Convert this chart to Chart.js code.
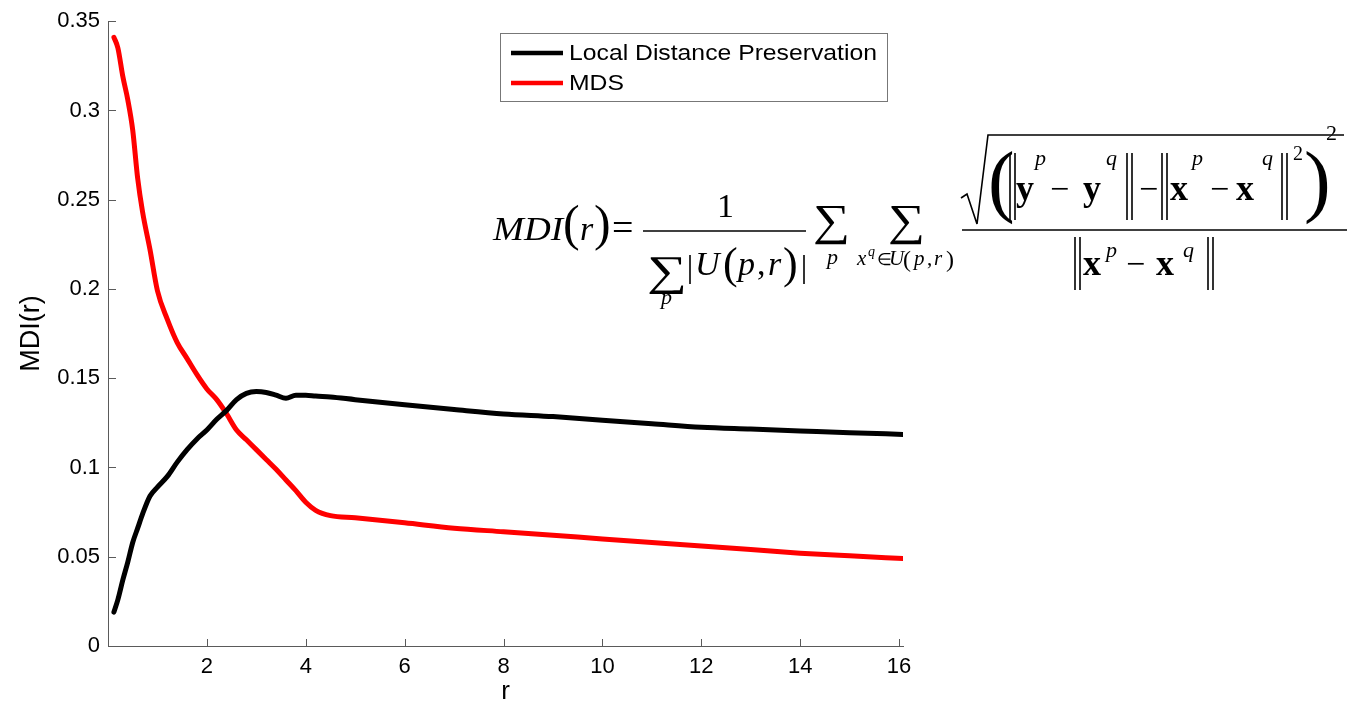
<!DOCTYPE html>
<html>
<head>
<meta charset="utf-8">
<script src="https://cdn.jsdelivr.net/npm/chart.js@4/dist/chart.umd.min.js"></script>
<style>
  body { margin: 0; background: #fff; }
  #wrap { position: relative; width: 1349px; height: 705px; }
  #formula { position: absolute; left: 0; top: 0; pointer-events: none; }
</style>
</head>
<body>
<div id="wrap">
  <canvas id="myChart"></canvas>
  <svg id="formula" width="1349" height="705" font-family="'Liberation Serif','Times New Roman',serif" fill="#000">
    <g font-size="34" stroke="none">
      <text x="493" y="240" font-style="italic" textLength="70" lengthAdjust="spacingAndGlyphs">MDI</text>
      <text x="563" y="240" font-size="50">(</text>
      <text x="580" y="240" font-style="italic">r</text>
      <text x="594" y="240" font-size="50">)</text>
      <text x="612" y="240" font-size="38">=</text>
      <text x="717" y="217">1</text>
      <text x="647" y="285" font-size="42" textLength="40" lengthAdjust="spacingAndGlyphs">∑</text>
      <text x="661" y="304" font-size="22" font-style="italic">p</text>
      <text x="695" y="275" font-style="italic">U</text>
      <text x="723" y="278" font-size="44">(</text>
      <text x="738" y="275" font-style="italic">p</text>
      <text x="757" y="275">,</text>
      <text x="768" y="275" font-style="italic">r</text>
      <text x="783" y="278" font-size="44">)</text>
      <text x="813" y="235" font-size="44" textLength="37" lengthAdjust="spacingAndGlyphs">∑</text>
      <text x="827" y="264" font-size="22" font-style="italic">p</text>
      <text x="888" y="235" font-size="44" textLength="37" lengthAdjust="spacingAndGlyphs">∑</text>
      <text x="857" y="265" font-size="21" font-style="italic">x</text>
      <text x="868" y="256" font-size="14" font-style="italic">q</text>
      <text x="877" y="265" font-size="17">∈</text>
      <text x="889" y="265" font-size="21" font-style="italic">U</text>
      <text x="903" y="267" font-size="24">(</text>
      <text x="914" y="265" font-size="21" font-style="italic">p</text>
      <text x="927" y="265" font-size="21">,</text>
      <text x="934" y="265" font-size="21" font-style="italic">r</text>
      <text x="946" y="267" font-size="24">)</text>

      <text x="988" y="207" font-size="80">(</text>
      <text x="1016" y="200" font-weight="bold" font-size="36">y</text>
      <text x="1035" y="165" font-size="22" font-style="italic">p</text>
      <text x="1050" y="200">−</text>
      <text x="1083" y="200" font-weight="bold" font-size="36">y</text>
      <text x="1106" y="165" font-size="22" font-style="italic">q</text>
      <text x="1139" y="200">−</text>
      <text x="1170" y="200" font-weight="bold" font-size="36">x</text>
      <text x="1192" y="165" font-size="22" font-style="italic">p</text>
      <text x="1210" y="200">−</text>
      <text x="1236" y="200" font-weight="bold" font-size="36">x</text>
      <text x="1262" y="165" font-size="22" font-style="italic">q</text>
      <text x="1293" y="160" font-size="20">2</text>
      <text x="1304" y="207" font-size="80">)</text>
      <text x="1326" y="140" font-size="22">2</text>

      <text x="1083" y="275" font-weight="bold" font-size="36">x</text>
      <text x="1106" y="257" font-size="22" font-style="italic">p</text>
      <text x="1126" y="275">−</text>
      <text x="1156" y="275" font-weight="bold" font-size="36">x</text>
      <text x="1183" y="257" font-size="22" font-style="italic">q</text>
    </g>
    <g stroke="#000" stroke-width="1.6" fill="none">
      <line x1="643" y1="231" x2="806" y2="231"/>
      <line x1="962" y1="230" x2="1347" y2="230"/>
      <line x1="690" y1="255" x2="690" y2="284"/>
      <line x1="804" y1="255" x2="804" y2="284"/>
      <path d="M961,198 L967,194 L977,224 L988,135 L1344,135"/>
      <path d="M1010,153 V220 M1015,153 V220 M1127,153 V220 M1132,153 V220 M1162,153 V220 M1167,153 V220 M1282,153 V220 M1287,153 V220"/>
      <path d="M1075,237 V290 M1080,237 V290 M1208,237 V290 M1213,237 V290"/>
    </g>
  </svg>
</div>
<script>
// r values (shared by both curves)
const rValues = [0.12, 0.2, 0.3, 0.4, 0.5, 0.6, 0.7, 0.85, 1.0, 1.2, 1.4, 1.6, 1.8, 2.0,
  2.2, 2.4, 2.6, 2.8, 3.0, 3.2, 3.4, 3.6, 3.8, 4.0, 4.2, 4.5, 5, 6, 7, 8, 9, 10, 11, 12, 13, 14, 15, 16.1]

const ldpValues = [0.019, 0.026, 0.037, 0.047, 0.058, 0.066, 0.074, 0.084, 0.089, 0.095, 0.103, 0.110, 0.116, 0.121,
  0.127, 0.132, 0.138, 0.1415, 0.1425, 0.142, 0.1405, 0.1388, 0.1405, 0.1405, 0.140, 0.1395, 0.138, 0.1352,
  0.1325, 0.130, 0.1285, 0.1265, 0.1245, 0.1225, 0.1215, 0.1205, 0.1195, 0.1185]

const mdsValues = [0.341, 0.335, 0.319, 0.306, 0.289, 0.262, 0.243, 0.222, 0.199, 0.183, 0.170, 0.161, 0.152, 0.144,
  0.138, 0.130, 0.121, 0.1155, 0.110, 0.1045, 0.099, 0.093, 0.087, 0.0805, 0.076, 0.073, 0.0718, 0.069,
  0.066, 0.064, 0.062, 0.060, 0.058, 0.056, 0.054, 0.052, 0.0505, 0.049]

const xTicks = [2, 4, 6, 8, 10, 12, 14, 16]
const yTicks = [0, 0.05, 0.1, 0.15, 0.2, 0.25, 0.3, 0.35]

const seriesNames = ['Local Distance Preservation', 'MDS']
const seriesColors = ['#000000', '#ff0000']
const axisColor = '#5a5a5a'

const toPoints = (vals) => rValues.map((r, i) => ({ x: r, y: vals[i] }))

// matlab style: ticks pointing into the plot + boxed legend
const matlabBits = {
  id: 'matlabBits',
  afterDraw(chart) {
    const ctx = chart.ctx
    const xs = chart.scales.x, ys = chart.scales.y
    const area = chart.chartArea
    ctx.save()
    ctx.strokeStyle = axisColor
    ctx.lineWidth = 1
    ctx.beginPath()
    xTicks.forEach(v => {
      const px = Math.round(xs.getPixelForValue(v)) + 0.5
      ctx.moveTo(px, area.bottom)
      ctx.lineTo(px, area.bottom - 7)
    })
    yTicks.forEach(v => {
      const py = Math.round(ys.getPixelForValue(v)) + 0.5
      ctx.moveTo(area.left, py)
      ctx.lineTo(area.left + 8, py)
    })
    ctx.stroke()

    // legend
    const bx = 500.5, by = 33.5, bw = 387, bh = 68
    ctx.fillStyle = '#fff'
    ctx.fillRect(bx, by, bw, bh)
    ctx.strokeStyle = '#777'
    ctx.strokeRect(bx, by, bw, bh)
    ctx.font = '22px "Liberation Sans", Arial, sans-serif'
    ctx.textBaseline = 'middle'
    // reference text is a bit wider than the font, stretch it
    const stretch = 308 / ctx.measureText(seriesNames[0]).width
    const rows = [53, 83]
    chart.data.datasets.forEach((ds, i) => {
      ctx.strokeStyle = ds.borderColor
      ctx.lineWidth = 4.5
      ctx.beginPath()
      ctx.moveTo(511, rows[i])
      ctx.lineTo(563, rows[i])
      ctx.stroke()
      ctx.save()
      ctx.translate(569, rows[i] + 1)
      ctx.scale(stretch, 1)
      ctx.fillStyle = '#000'
      ctx.fillText(ds.label, 0, 0)
      ctx.restore()
    })
    ctx.restore()
  }
}

const tickFont = { family: '"Liberation Sans", Arial, sans-serif', size: 22 }

new Chart(document.getElementById('myChart'), {
  type: 'line',
  data: {
    datasets: [ldpValues, mdsValues].map((vals, i) => ({
      label: seriesNames[i],
      data: toPoints(vals),
      borderColor: seriesColors[i],
      backgroundColor: seriesColors[i],
      borderWidth: 5,
      pointRadius: 0,
      cubicInterpolationMode: 'monotone',
      borderCapStyle: 'round',
      borderJoinStyle: 'round'
    }))
  },
  options: {
    responsive: true,
    maintainAspectRatio: false,
    animation: false,
    layout: { padding: { top: 21, right: 446, bottom: 0, left: 0 } },
    plugins: { legend: { display: false }, tooltip: { enabled: false } },
    scales: {
      x: {
        type: 'linear',
        min: 0,
        max: 16.08,
        afterBuildTicks: s => { s.ticks = xTicks.map(v => ({ value: v })) },
        afterFit: s => { s.height = 59 },
        grid: { display: false, drawTicks: false },
        border: { display: true, color: axisColor, width: 1 },
        ticks: { color: '#000', font: tickFont, padding: 8, maxRotation: 0 },
        title: { display: true, text: 'r', color: '#000', padding: 0,
          font: { family: '"Liberation Sans", Arial, sans-serif', size: 26, lineHeight: 1 } }
      },
      y: {
        min: 0,
        max: 0.35,
        afterBuildTicks: s => { s.ticks = yTicks.map(v => ({ value: v })) },
        afterFit: s => { s.width = 108 },
        grid: { display: false, drawTicks: false },
        border: { display: true, color: axisColor, width: 1 },
        ticks: { color: '#000', font: tickFont, padding: 8, callback: v => String(+v.toFixed(2)) },
        title: { display: true, text: 'MDI(r)', color: '#000', padding: { top: 15, bottom: 0 },
          font: { family: '"Liberation Sans", Arial, sans-serif', size: 27 } }
      }
    }
  },
  plugins: [matlabBits]
})
</script>
</body>
</html>
